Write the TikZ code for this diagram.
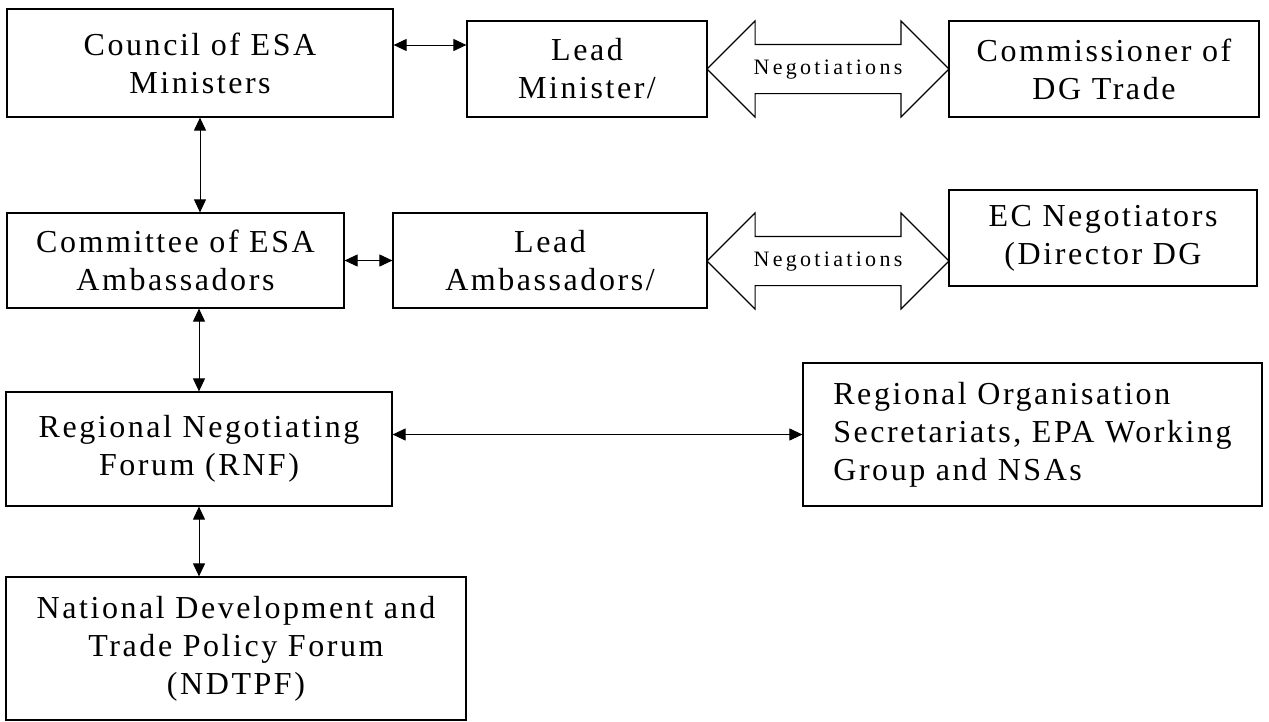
\documentclass[tikz,border=0pt]{standalone}
\usepackage{fontspec}
\setmainfont{Liberation Serif}[LetterSpace=8]
\usepackage{tikz}
\usetikzlibrary{arrows.meta, shapes.arrows}

\begin{document}
\begin{tikzpicture}[x=1pt, y=-1pt,
        box/.style={rectangle, draw, line width=1.2pt, inner sep=0pt, align=center,
            font=\fontsize{32}{38}\selectfont},
        link/.style={{Triangle[length=13pt,width=12pt]}-{Triangle[length=13pt,width=12pt]}, line width=1pt},
        nego/.style={double arrow, draw, line width=1.1pt, inner xsep=0pt, inner ysep=14pt,
            text height=15pt, text depth=5pt,
            minimum height=242pt, minimum width=95pt, double arrow head extend=23.5pt,
            font=\fontsize{22}{24}\selectfont\addfontfeatures{LetterSpace=15}}]
        \useasboundingbox (0,0) rectangle (1269,721);

        % ESA side
        \node[box, minimum width=386pt, minimum height=108pt] (council) at (200,63) {Council of ESA\\Ministers};
        \node[box, minimum width=337pt, minimum height=95pt] (committee) at (175.5,260.5) {Committee of ESA\\Ambassadors};
        \node[box, minimum width=386pt, minimum height=114pt] (rnf) at (199,449) {Regional Negotiating\\Forum (RNF)};
        \node[box, minimum width=460pt, minimum height=143pt] (ndtpf) at (236,648.5) {National Development and\\Trade Policy Forum\\(NDTPF)};

        % Leads
        \node[box, minimum width=240pt, minimum height=96pt] (leadmin) at (587,69) {Lead\\Minister/};
        \node[box, minimum width=314pt, minimum height=95pt] (leadamb) at (550,260.5) {Lead\\Ambassadors/};

        % EC side
        \node[box, minimum width=310pt, minimum height=96pt] (commiss) at (1104,69) {Commissioner of\\DG Trade};
        \node[box, minimum width=308pt, minimum height=96pt] (ecneg) at (1103,238) {EC Negotiators\\(Director DG};
        \node[box, minimum width=459pt, minimum height=143pt, align=left] (regorg) at (1032.5,434.5) {Regional Organisation\\Secretariats, EPA Working\\Group and NSAs};

        % Negotiations
        \node[nego] (nego1) at (828,69) {Negotiations};
        \node[nego] (nego2) at (828,261) {Negotiations};

        % Arrows
        \draw[link] ([yshift=18pt]council.east) -- ([yshift=18pt]council.east -| leadmin.west);
        \draw[link] (committee.east) -- (leadamb.west);
        \draw[link] (regorg.west -| rnf.east) -- (regorg.west);
        \draw[link] (council.south) -- (council.south |- committee.north);
        \draw[link] (rnf.north |- committee.south) -- (rnf.north);
        \draw[link] (rnf.south) -- (rnf.south |- ndtpf.north);
    \end{tikzpicture}
\end{document}
